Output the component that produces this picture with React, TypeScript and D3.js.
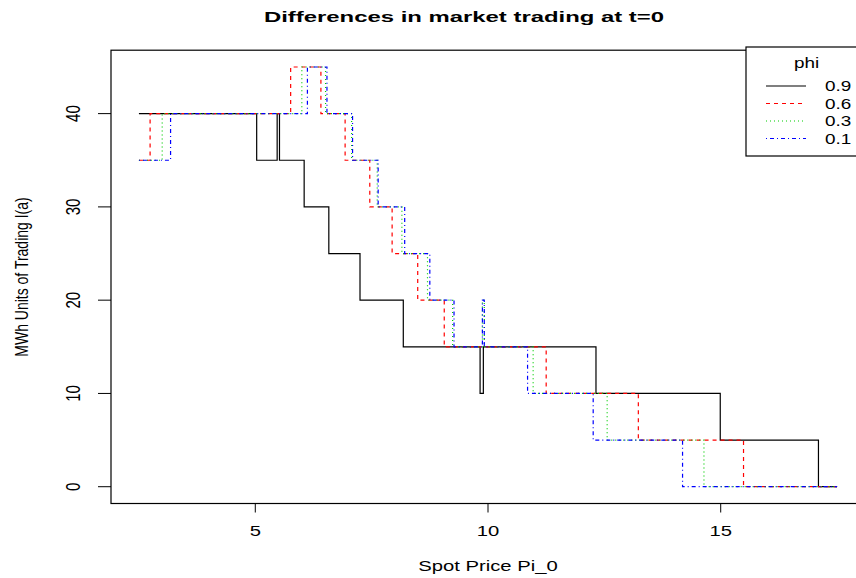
import React, { useEffect, useRef } from "react";
import * as d3 from "d3";

// step points: price where the level starts, units held from there
const phi09Price = [2.5, 5.03, 5.47, 5.52, 6.05, 6.58, 7.25, 8.18, 9.83, 9.9, 12.32, 14.99, 17.1, 17.5];
const phi09Units = [40, 35, 40, 35, 30, 25, 20, 15, 10, 15, 10, 5, 0, 0];

const phi06Price = [2.5, 2.74, 5.76, 6.41, 6.93, 7.46, 7.94, 8.49, 9.06, 11.25, 13.23, 15.49, 17.5];
const phi06Units = [35, 40, 45, 40, 35, 30, 25, 20, 15, 10, 5, 0, 0];

const phi03Price = [2.5, 3.0, 6.0, 6.51, 7.07, 7.62, 8.15, 8.7, 9.24, 9.88, 9.92, 10.97, 12.56, 14.64, 17.5];
const phi03Units = [35, 40, 45, 40, 35, 30, 25, 20, 15, 20, 15, 10, 5, 0, 0];

const phi01Price = [2.5, 3.18, 6.12, 6.54, 7.09, 7.64, 8.21, 8.75, 9.27, 9.88, 9.92, 10.85, 12.26, 14.18, 17.5];
const phi01Units = [35, 40, 45, 40, 35, 30, 25, 20, 15, 20, 15, 10, 5, 0, 0];

const phiLabels = ["0.9", "0.6", "0.3", "0.1"];
const xTicks = [5, 10, 15];
const yTicks = [0, 10, 20, 30, 40];

const W = 856;
const H = 578;
const SX = 1.35; // the picture is stretched sideways

export default function App() {
  const ref = useRef<SVGSVGElement>(null);

  useEffect(() => {
    var svg = d3.select(ref.current);
    svg.selectAll("*").remove();
    var font = "'Liberation Sans', Arial, Helvetica, sans-serif";

    var x = d3.scaleLinear().domain([1.9, 18.1]).range([111, 865]);
    var y = d3.scaleLinear().domain([-1.8, 46.8]).range([503.5, 50.2]);

    // plot box
    svg
      .append("rect")
      .attr("x", x(1.9))
      .attr("y", y(46.8))
      .attr("width", x(18.1) - x(1.9))
      .attr("height", y(-1.8) - y(46.8))
      .attr("fill", "none")
      .attr("stroke", "#000")
      .attr("stroke-width", 1.2);

    var series = [
      { price: phi09Price, units: phi09Units, color: "#000000", dash: null },
      { price: phi06Price, units: phi06Units, color: "#ff0000", dash: "4,4" },
      { price: phi03Price, units: phi03Units, color: "#00cd00", dash: "1,3" },
      { price: phi01Price, units: phi01Units, color: "#0000ff", dash: "1,3,4,3" },
    ];

    var line = d3
      .line<[number, number]>()
      .x((d) => x(d[0]))
      .y((d) => y(d[1]))
      .curve(d3.curveStepAfter);

    series.forEach((s) => {
      var pts = s.price.map((p, i) => [p, s.units[i]] as [number, number]);
      svg
        .append("path")
        .attr("d", line(pts))
        .attr("fill", "none")
        .attr("stroke", s.color)
        .attr("stroke-width", 1.2)
        .attr("stroke-dasharray", s.dash);
    });

    // x axis ticks
    var gx = svg.append("g");
    gx.selectAll("line")
      .data(xTicks)
      .join("line")
      .attr("x1", (d) => x(d))
      .attr("x2", (d) => x(d))
      .attr("y1", y(-1.8))
      .attr("y2", y(-1.8) + 9)
      .attr("stroke", "#000");
    gx.selectAll("text")
      .data(xTicks)
      .join("text")
      .attr("transform", (d) => `translate(${x(d)},535.5) scale(${SX},1)`)
      .attr("text-anchor", "middle")
      .attr("font-family", font)
      .attr("font-size", 15)
      .text((d) => d);

    // y axis ticks
    var gy = svg.append("g");
    gy.selectAll("line")
      .data(yTicks)
      .join("line")
      .attr("x1", 98)
      .attr("x2", 111)
      .attr("y1", (d) => y(d))
      .attr("y2", (d) => y(d))
      .attr("stroke", "#000");
    gy.selectAll("text")
      .data(yTicks)
      .join("text")
      .attr("transform", (d) => `translate(80,${y(d)}) scale(${SX},1) rotate(-90)`)
      .attr("text-anchor", "middle")
      .attr("font-family", font)
      .attr("font-size", 15)
      .text((d) => d);

    // titles
    svg
      .append("text")
      .attr("x", 464)
      .attr("y", 21.5)
      .attr("text-anchor", "middle")
      .attr("font-family", font)
      .attr("font-weight", "bold")
      .attr("font-size", 15)
      .attr("textLength", 400)
      .attr("lengthAdjust", "spacingAndGlyphs")
      .text("Differences in market trading at t=0");
    svg
      .append("text")
      .attr("transform", `translate(488,570.5) scale(${SX},1)`)
      .attr("text-anchor", "middle")
      .attr("font-family", font)
      .attr("font-size", 15)
      .text("Spot Price Pi_0");
    svg
      .append("text")
      .attr("transform", `translate(28,277) scale(${SX},1) rotate(-90)`)
      .attr("text-anchor", "middle")
      .attr("font-family", font)
      .attr("font-size", 14)
      .text("MWh Units of Trading I(a)");

    // legend
    var lg = svg.append("g");
    lg.append("rect")
      .attr("x", 746)
      .attr("y", 47)
      .attr("width", 140)
      .attr("height", 109)
      .attr("fill", "#fff")
      .attr("stroke", "#000")
      .attr("stroke-width", 1.2);
    lg.append("text")
      .attr("transform", `translate(806.5,67.5) scale(${SX},1)`)
      .attr("text-anchor", "middle")
      .attr("font-family", font)
      .attr("font-size", 14)
      .text("phi");
    series.forEach((s, i) => {
      var ly = 86 + i * 17.5;
      lg.append("line")
        .attr("x1", 766)
        .attr("x2", 806)
        .attr("y1", ly)
        .attr("y2", ly)
        .attr("stroke", s.color)
        .attr("stroke-width", 1.2)
        .attr("stroke-dasharray", s.dash);
      lg.append("text")
        .attr("transform", `translate(825,${ly + 5}) scale(${SX},1)`)
        .attr("font-family", font)
        .attr("font-size", 14)
        .text(phiLabels[i]);
    });
  }, []);

  return (
    <svg
      ref={ref}
      width={W}
      height={H}
      style={{ position: "absolute", left: 0, top: 0, background: "#fff" }}
    ></svg>
  );
}
